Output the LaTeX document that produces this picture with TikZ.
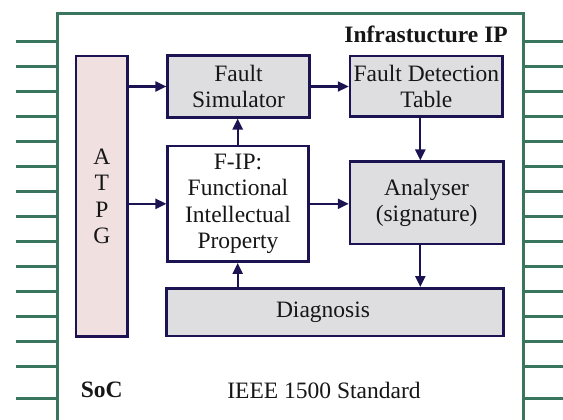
\documentclass[tikz,border=0pt]{standalone}
\usepackage{fontspec}
\setmainfont{Liberation Serif}
\usetikzlibrary{arrows.meta}

\definecolor{socgreen}{RGB}{58,118,94}
\definecolor{navy}{RGB}{28,20,82}
\definecolor{boxgray}{RGB}{222,222,224}
\definecolor{atpgpink}{RGB}{240,224,224}
\definecolor{txt}{RGB}{22,22,22}

\newcommand{\blkfont}{\fontsize{23.5}{26.5}\selectfont}

\tikzset{
  blk/.style={draw=navy, line width=2.5pt, inner sep=0pt, align=center,
    text=txt, font=\blkfont},
  grayblk/.style={blk, fill=boxgray},
  whiteblk/.style={blk, fill=white},
  pinkblk/.style={blk, fill=atpgpink},
  arr/.style={draw=navy, line width=2.3pt, -{Triangle[length=11pt,width=10pt]}},
  pin/.style={draw=socgreen, line width=3pt},
  lbl/.style={text=txt, font=\blkfont, inner sep=0pt},
  boldlbl/.style={lbl, font=\blkfont\bfseries},
}

\begin{document}
\begin{tikzpicture}[x=1pt, y=-1pt]
  \useasboundingbox (0,0) rectangle (563,420);
  \clip (0,0) rectangle (563,420);

  % SoC outline with its pins
  \draw[pin] (57,425) -- (57,13.5) -- (523,13.5) -- (523,425);
  \foreach \y in {41.7,66.7,...,366.8,398.3} {
    \draw[pin] (16,\y) -- (57,\y);
    \draw[pin] (523,\y) -- (566,\y);
  }

  % blocks
  \node[pinkblk, minimum width=51.7pt, minimum height=280.7pt] (atpg) at (101.85,196.35) {A\\T\\P\\G};
  \node[grayblk, minimum width=141.6pt, minimum height=61.6pt] (fs) at (238.5,86.5) {Fault\\Simulator};
  \node[grayblk, minimum width=152.7pt, minimum height=60.7pt] (fdt) at (426.35,86.35) {Fault Detection\\Table};
  \node[whiteblk, minimum width=140.6pt, minimum height=115.7pt] (fip) at (238,203.85) {F-IP:\\Functional\\Intellectual\\Property};
  \node[grayblk, minimum width=153.3pt, minimum height=82.3pt] (ana) at (426.65,202.85) {Analyser\\(signature)};
  \node[grayblk, minimum width=336.6pt, minimum height=47.7pt] (diag) at (335,312.15) {\hspace*{-24pt}Diagnosis};

  % labels
  \node[boldlbl, anchor=east] (infra) at (508,34) {Infrastucture IP};
  \node[boldlbl] (soc) at (101.7,390) {SoC};
  \node[lbl] (ieee) at (324,390) {IEEE 1500 Standard};

  % connectors
  \coordinate (vl) at (237.7,0);
  \coordinate (vr) at (420.3,0);
  \draw[arr] (atpg.east |- fs) -- (fs.west);
  \draw[arr] (fs.east) -- (fdt.west |- fs);
  \draw[arr] (atpg.east |- fip) -- (fip.west);
  \draw[arr] (fip.east) -- (ana.west |- fip);
  \draw[arr] (fip.north -| vl) -- (fs.south -| vl);
  \draw[arr] (diag.north -| vl) -- (fip.south -| vl);
  \draw[arr] (fdt.south -| vr) -- (ana.north -| vr);
  \draw[arr] (ana.south -| vr) -- (diag.north -| vr);
\end{tikzpicture}
\end{document}
